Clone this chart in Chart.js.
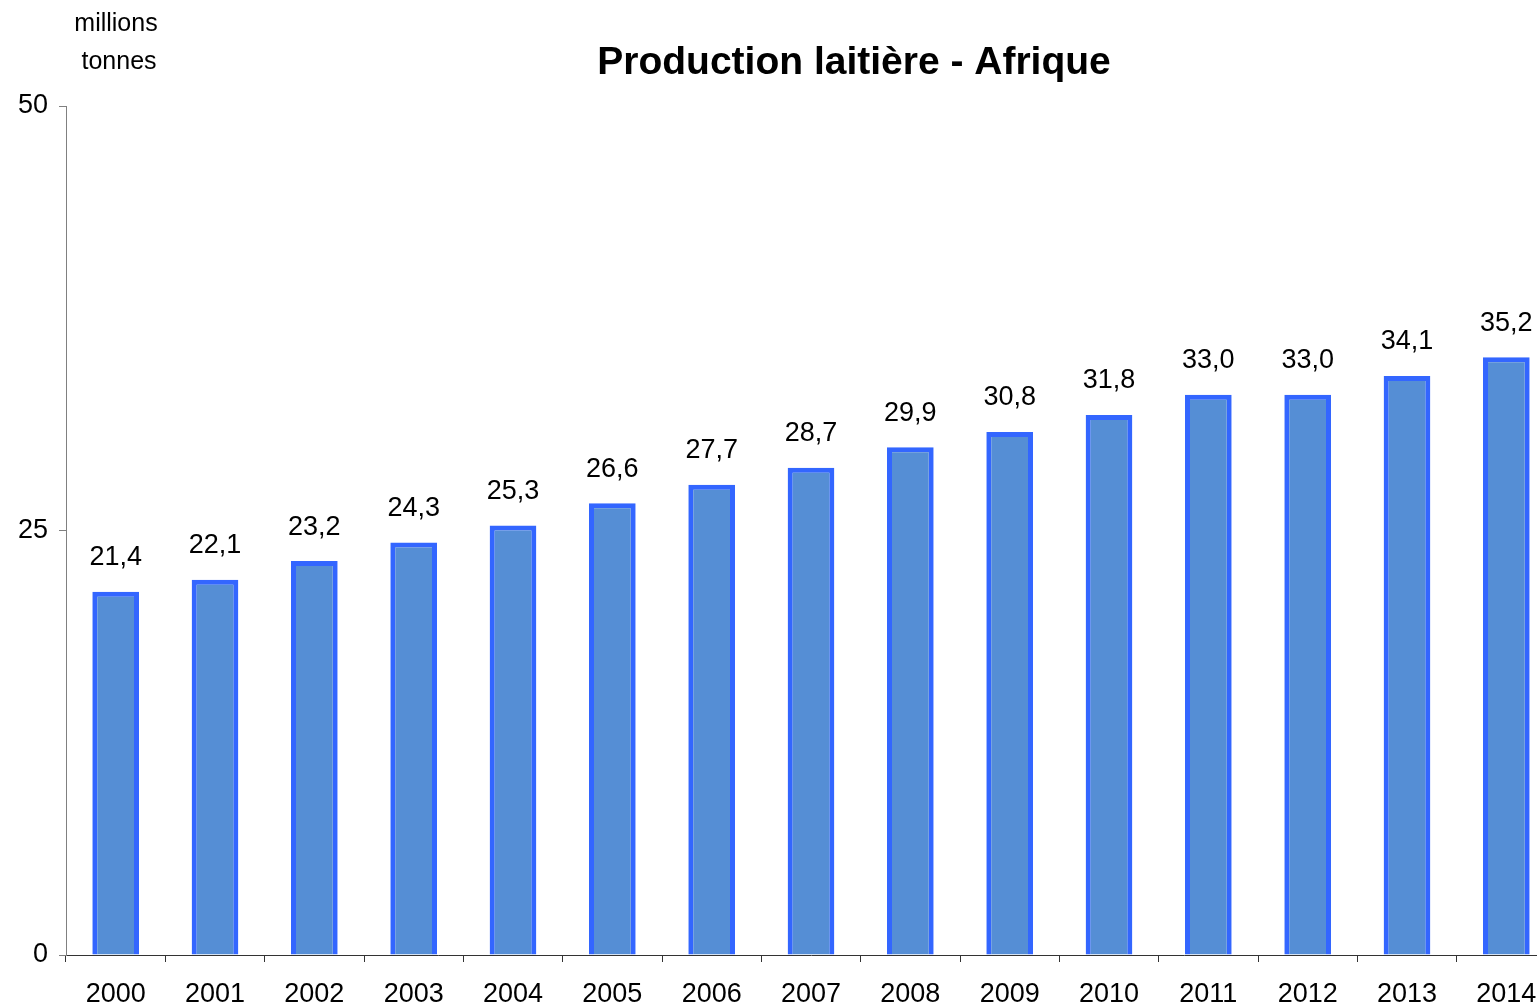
<!DOCTYPE html>
<html>
<head>
<meta charset="utf-8">
<script src="https://cdn.jsdelivr.net/npm/chart.js@4.4.0/dist/chart.umd.min.js"></script>
<style>
  html, body { margin: 0; padding: 0; background: #fff; overflow: hidden; }
  canvas { display: block; }
</style>
</head>
<body>
<canvas id="chart" width="1560" height="1008"></canvas>
<script>
const years = ["2000", "2001", "2002", "2003", "2004", "2005", "2006", "2007",
  "2008", "2009", "2010", "2011", "2012", "2013", "2014"];
const production = [21.4, 22.1, 23.2, 24.3, 25.3, 26.6, 27.7, 28.7,
  29.9, 30.8, 31.8, 33.0, 33.0, 34.1, 35.2];
const yTicks = [0, 25, 50];
const titleText = "Production laitière - Afrique";
const unitLines = ["millions", "tonnes"];

const FONT = "Liberation Sans, Arial, sans-serif";

// values above each bar, french decimal comma
const valueLabels = {
  id: "valueLabels",
  afterDatasetsDraw(chart) {
    const { ctx } = chart;
    const meta = chart.getDatasetMeta(0);
    ctx.save();
    ctx.font = "27px " + FONT;
    ctx.fillStyle = "#000";
    ctx.textAlign = "center";
    ctx.textBaseline = "middle";
    meta.data.forEach((bar, i) => {
      const txt = production[i].toFixed(1).replace(".", ",");
      ctx.fillText(txt, bar.x, bar.y - 34);
    });
    ctx.restore();
  },
};

// title + unit text in the top left corner
const headerText = {
  id: "headerText",
  afterDraw(chart) {
    const { ctx } = chart;
    ctx.save();
    ctx.fillStyle = "#000";
    ctx.textAlign = "center";
    ctx.textBaseline = "middle";
    ctx.font = "bold 39px " + FONT;
    ctx.fillText(titleText, 854, 63);
    ctx.font = "25px " + FONT;
    ctx.fillText(unitLines[0], 116, 24);
    ctx.fillText(unitLines[1], 119, 62);
    ctx.restore();
  },
};

new Chart(document.getElementById("chart"), {
  type: "bar",
  data: {
    labels: years,
    datasets: [{
      data: production,
      backgroundColor: "#558ED5",
      borderColor: "#3366FF",
      borderWidth: 5,
      borderSkipped: "start",
      barPercentage: 0.47,
      categoryPercentage: 1,
    }],
  },
  options: {
    responsive: false,
    animation: false,
    layout: { padding: { top: 106, right: 4, left: 0, bottom: 0 } },
    plugins: {
      legend: { display: false },
      title: { display: false },
      tooltip: { enabled: false },
    },
    scales: {
      x: {
        grid: {
          drawOnChartArea: false,
          drawTicks: true,
          tickLength: 7,
          color: "#333",
          offset: true,
        },
        border: { display: true, color: "#333", width: 1 },
        ticks: {
          color: "#000",
          font: { family: FONT, size: 27 },
          padding: 16,
          maxRotation: 0,
          autoSkip: false,
        },
        afterFit(scale) { scale.height = 53; },
      },
      y: {
        min: 0,
        max: 50,
        afterBuildTicks(scale) {
          scale.ticks = yTicks.map(v => ({ value: v }));
        },
        grid: {
          drawOnChartArea: false,
          drawTicks: true,
          tickLength: 7,
          color: "#808080",
        },
        border: { display: true, color: "#808080", width: 1 },
        ticks: {
          color: "#000",
          font: { family: FONT, size: 27 },
          padding: 11,
        },
        afterFit(scale) { scale.width = 66; },
      },
    },
  },
  plugins: [valueLabels, headerText],
});
</script>
</body>
</html>
